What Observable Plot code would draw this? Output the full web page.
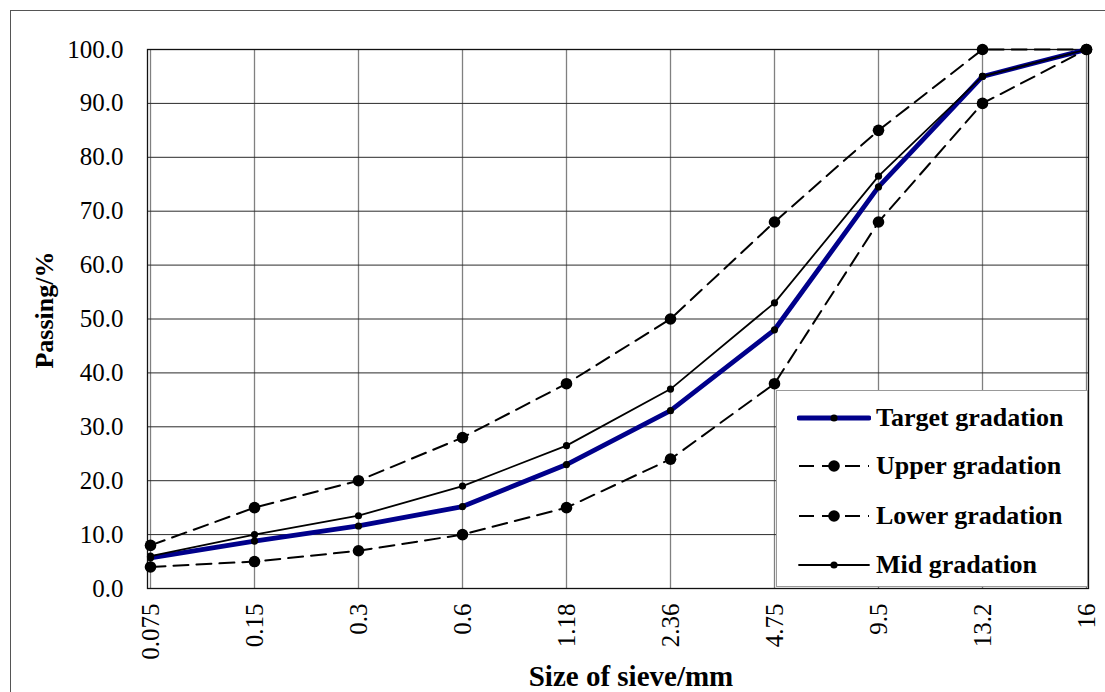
<!DOCTYPE html>
<html>
<head>
<meta charset="utf-8">
<script src="https://cdn.jsdelivr.net/npm/d3@7"></script>
<script src="https://cdn.jsdelivr.net/npm/@observablehq/plot@0.6"></script>
<style>
  html, body { margin: 0; padding: 0; background: #fff; overflow: hidden; }
  #wrap { position: relative; width: 1105px; height: 692px; font-family: "Liberation Serif", "Times New Roman", serif; }
  #outer { position: absolute; left: 10px; top: 10px; width: 1200px; height: 800px; border: 1px solid #555; box-sizing: border-box; pointer-events: none; }
  #chart { position: absolute; left: 0; top: 0; }
  .title { position: absolute; font-weight: bold; color: #000; white-space: nowrap; }
  #xtitle { left: 0; width: 1262px; text-align: center; top: 660px; font-size: 29px; }
  #ytitle { left: 45px; top: 310px; font-size: 26px; transform: translate(-50%, -50%) rotate(-90deg); }
  #legend { position: absolute; left: 776px; top: 390px; width: 312px; height: 197px; background: #fff; border: 1px solid #999; box-sizing: border-box; }
  .row { position: absolute; left: 20px; height: 30px; display: flex; align-items: center; }
  .row svg { width: 74px; height: 30px; }
  .row span { font-weight: bold; font-size: 26px; margin-left: 5px; }
</style>
</head>
<body>
<div id="wrap">
  <div id="chart"></div>
  <div id="outer"></div>
  <div id="xtitle" class="title">Size of sieve/mm</div>
  <div id="ytitle" class="title">Passing/%</div>
  <div id="legend"></div>
</div>
<script>
const sizes = ["0.075", "0.15", "0.3", "0.6", "1.18", "2.36", "4.75", "9.5", "13.2", "16"];
const target = [5.7, 8.8, 11.6, 15.2, 23, 33, 48, 74.5, 95, 100];
const upper  = [8, 15, 20, 28, 38, 50, 68, 85, 100, 100];
const lower  = [4, 5, 7, 10, 15, 24, 38, 68, 90, 100];
const mid    = [6, 10, 13.5, 19, 26.5, 37, 53, 76.5, 95, 100];
const yTicks = [0, 10, 20, 30, 40, 50, 60, 70, 80, 90, 100];

const seriesNames = ["Target gradation", "Upper gradation", "Lower gradation", "Mid gradation"];
const seriesValues = [target, upper, lower, mid];
const styles = {
  "Target gradation": {stroke: "#00008b", strokeWidth: 4.8, dash: null, r: 3.6},
  "Upper gradation": {stroke: "#000", strokeWidth: 2, dash: "15,8", r: 5.8},
  "Lower gradation": {stroke: "#000", strokeWidth: 2, dash: "15,8", r: 5.8},
  "Mid gradation": {stroke: "#000", strokeWidth: 1.8, dash: null, r: 3.6}
};
const drawOrder = ["Target gradation", "Upper gradation", "Lower gradation", "Mid gradation"];

const rows = seriesNames.flatMap((name, i) => sizes.map((s, j) => ({series: name, size: s, value: seriesValues[i][j]})));

const lineMarks = drawOrder.flatMap(name => {
  const st = styles[name];
  const d = rows.filter(r => r.series === name);
  return [
    Plot.line(d, {x: "size", y: "value", stroke: st.stroke, strokeWidth: st.strokeWidth, strokeDasharray: st.dash || undefined}),
    Plot.dot(d, {x: "size", y: "value", r: st.r, fill: "#000", stroke: "none"})
  ];
});

const chart = Plot.plot({
  width: 1105,
  height: 692,
  marginLeft: 147,
  marginRight: 17,
  marginTop: 49,
  marginBottom: 104,
  style: {fontFamily: "Liberation Serif, Times New Roman, serif", background: "transparent", color: "#000"},
  x: {type: "point", domain: sizes, padding: 0},
  y: {domain: [0, 100]},
  marks: [
    Plot.ruleX(sizes, {stroke: "#808080", strokeWidth: 1.3}),
    Plot.gridY(yTicks, {stroke: "#2a2a2a", strokeOpacity: 1, strokeWidth: 1}),
    Plot.frame({stroke: "#111", strokeWidth: 1.3}),
    Plot.axisY(yTicks, {tickSize: 0, tickPadding: 24, fontSize: 25, tickFormat: d => d.toFixed(1), label: null}),
    Plot.axisX({tickSize: 0, tickPadding: 15, fontSize: 25, tickRotate: -90, label: null}),
    ...lineMarks
  ]
});
document.getElementById("chart").appendChild(chart);

// legend (HTML, not a data mark)
const legend = document.getElementById("legend");
const legendTops = [12, 60, 110, 159];
seriesNames.forEach((name, i) => {
  const st = styles[name];
  const row = document.createElement("div");
  row.className = "row";
  row.style.top = legendTops[i] + "px";
  const small = st.r < 4;
  const dash = st.dash ? ' stroke-dasharray="15,8"' : '';
  row.innerHTML = `<svg viewBox="0 0 74 30"><line x1="2" y1="15" x2="72" y2="15" stroke="${st.stroke}" stroke-width="${st.strokeWidth}"${dash} stroke-linecap="${st.dash ? 'butt' : 'round'}"/><circle cx="37" cy="15" r="${small ? 3.6 : 5.8}" fill="#000"/></svg><span>${name}</span>`;
  legend.appendChild(row);
});
</script>
</body>
</html>
